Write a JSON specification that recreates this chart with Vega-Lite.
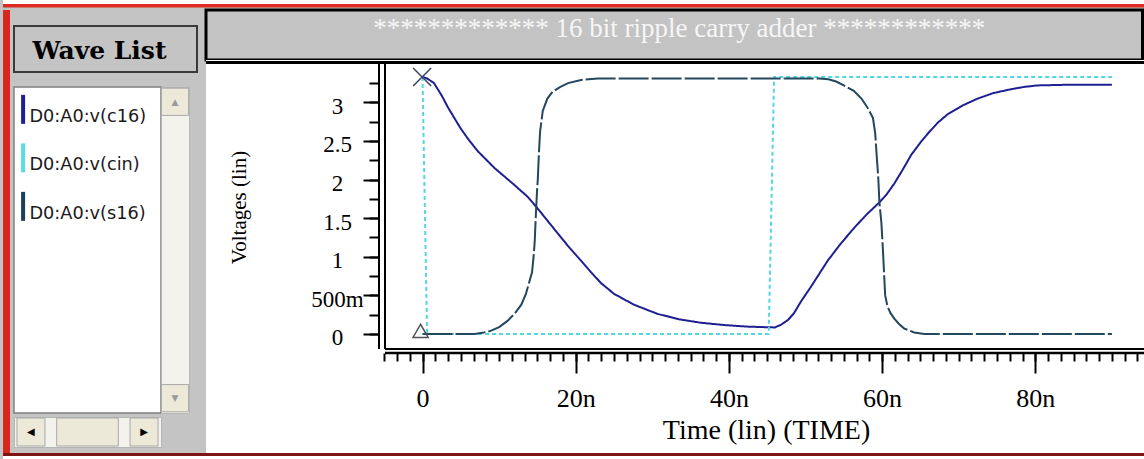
{
  "$schema": "https://vega.github.io/schema/vega-lite/v6.json",
  "background": "#c4c4c4",
  "padding": {"left": 3, "top": 0, "right": 0, "bottom": 0},
  "config": {
    "view": {"stroke": null},
    "concat": {"spacing": 0},
    "axis": {"grid": false, "domain": false, "labelColor": "#000000", "tickColor": "#000000", "titleColor": "#000000"}
  },
  "datasets": {
    "waves": [
      {"series": "D0:A0:v(c16)", "t": 0, "v": 3.33},
      {"series": "D0:A0:v(c16)", "t": 0.6, "v": 3.31},
      {"series": "D0:A0:v(c16)", "t": 1.5, "v": 3.25},
      {"series": "D0:A0:v(c16)", "t": 2.5, "v": 3.09},
      {"series": "D0:A0:v(c16)", "t": 3.3, "v": 2.94},
      {"series": "D0:A0:v(c16)", "t": 4.2, "v": 2.79},
      {"series": "D0:A0:v(c16)", "t": 5.0, "v": 2.66},
      {"series": "D0:A0:v(c16)", "t": 6.0, "v": 2.52},
      {"series": "D0:A0:v(c16)", "t": 7.2, "v": 2.37},
      {"series": "D0:A0:v(c16)", "t": 8.3, "v": 2.26},
      {"series": "D0:A0:v(c16)", "t": 9.4, "v": 2.15},
      {"series": "D0:A0:v(c16)", "t": 10.7, "v": 2.04},
      {"series": "D0:A0:v(c16)", "t": 12.0, "v": 1.93},
      {"series": "D0:A0:v(c16)", "t": 13.7, "v": 1.78},
      {"series": "D0:A0:v(c16)", "t": 15.0, "v": 1.63},
      {"series": "D0:A0:v(c16)", "t": 16.3, "v": 1.47},
      {"series": "D0:A0:v(c16)", "t": 17.6, "v": 1.31},
      {"series": "D0:A0:v(c16)", "t": 19.0, "v": 1.14},
      {"series": "D0:A0:v(c16)", "t": 20.7, "v": 0.95},
      {"series": "D0:A0:v(c16)", "t": 22.0, "v": 0.80},
      {"series": "D0:A0:v(c16)", "t": 23.3, "v": 0.66},
      {"series": "D0:A0:v(c16)", "t": 25.0, "v": 0.52},
      {"series": "D0:A0:v(c16)", "t": 27.6, "v": 0.38},
      {"series": "D0:A0:v(c16)", "t": 30.7, "v": 0.26},
      {"series": "D0:A0:v(c16)", "t": 33.5, "v": 0.19},
      {"series": "D0:A0:v(c16)", "t": 36.4, "v": 0.145},
      {"series": "D0:A0:v(c16)", "t": 39.5, "v": 0.115},
      {"series": "D0:A0:v(c16)", "t": 42.5, "v": 0.095},
      {"series": "D0:A0:v(c16)", "t": 46.0, "v": 0.085},
      {"series": "D0:A0:v(c16)", "t": 46.8, "v": 0.12},
      {"series": "D0:A0:v(c16)", "t": 47.7, "v": 0.18},
      {"series": "D0:A0:v(c16)", "t": 48.5, "v": 0.27},
      {"series": "D0:A0:v(c16)", "t": 49.4, "v": 0.42},
      {"series": "D0:A0:v(c16)", "t": 50.7, "v": 0.61},
      {"series": "D0:A0:v(c16)", "t": 51.8, "v": 0.78},
      {"series": "D0:A0:v(c16)", "t": 52.9, "v": 0.95},
      {"series": "D0:A0:v(c16)", "t": 54.6, "v": 1.17},
      {"series": "D0:A0:v(c16)", "t": 56.4, "v": 1.38},
      {"series": "D0:A0:v(c16)", "t": 58.0, "v": 1.55},
      {"series": "D0:A0:v(c16)", "t": 59.6, "v": 1.70},
      {"series": "D0:A0:v(c16)", "t": 60.6, "v": 1.81},
      {"series": "D0:A0:v(c16)", "t": 61.6, "v": 1.95},
      {"series": "D0:A0:v(c16)", "t": 62.7, "v": 2.13},
      {"series": "D0:A0:v(c16)", "t": 63.8, "v": 2.32},
      {"series": "D0:A0:v(c16)", "t": 65.0, "v": 2.48},
      {"series": "D0:A0:v(c16)", "t": 66.0, "v": 2.60},
      {"series": "D0:A0:v(c16)", "t": 67.3, "v": 2.74},
      {"series": "D0:A0:v(c16)", "t": 68.6, "v": 2.85},
      {"series": "D0:A0:v(c16)", "t": 70.5, "v": 2.96},
      {"series": "D0:A0:v(c16)", "t": 72.5, "v": 3.05},
      {"series": "D0:A0:v(c16)", "t": 74.5, "v": 3.12},
      {"series": "D0:A0:v(c16)", "t": 76.8, "v": 3.17},
      {"series": "D0:A0:v(c16)", "t": 78.5, "v": 3.20},
      {"series": "D0:A0:v(c16)", "t": 80.3, "v": 3.22},
      {"series": "D0:A0:v(c16)", "t": 85.0, "v": 3.23},
      {"series": "D0:A0:v(c16)", "t": 90.0, "v": 3.23},
      {"series": "D0:A0:v(cin)", "t": 0, "v": 3.33},
      {"series": "D0:A0:v(cin)", "t": 0.6, "v": 0},
      {"series": "D0:A0:v(cin)", "t": 45.2, "v": 0},
      {"series": "D0:A0:v(cin)", "t": 45.9, "v": 3.33},
      {"series": "D0:A0:v(cin)", "t": 90.0, "v": 3.33},
      {"series": "D0:A0:v(s16)", "t": 0, "v": 0},
      {"series": "D0:A0:v(s16)", "t": 3.0, "v": 0},
      {"series": "D0:A0:v(s16)", "t": 6.8, "v": 0},
      {"series": "D0:A0:v(s16)", "t": 8.0, "v": 0.02},
      {"series": "D0:A0:v(s16)", "t": 8.9, "v": 0.04},
      {"series": "D0:A0:v(s16)", "t": 10.0, "v": 0.09},
      {"series": "D0:A0:v(s16)", "t": 11.1, "v": 0.17},
      {"series": "D0:A0:v(s16)", "t": 12.0, "v": 0.26},
      {"series": "D0:A0:v(s16)", "t": 12.9, "v": 0.38},
      {"series": "D0:A0:v(s16)", "t": 13.5, "v": 0.52},
      {"series": "D0:A0:v(s16)", "t": 13.9, "v": 0.66},
      {"series": "D0:A0:v(s16)", "t": 14.3, "v": 0.80},
      {"series": "D0:A0:v(s16)", "t": 14.5, "v": 1.0},
      {"series": "D0:A0:v(s16)", "t": 14.65, "v": 1.2},
      {"series": "D0:A0:v(s16)", "t": 14.8, "v": 1.55},
      {"series": "D0:A0:v(s16)", "t": 14.95, "v": 1.85},
      {"series": "D0:A0:v(s16)", "t": 15.05, "v": 2.0},
      {"series": "D0:A0:v(s16)", "t": 15.2, "v": 2.35},
      {"series": "D0:A0:v(s16)", "t": 15.35, "v": 2.62},
      {"series": "D0:A0:v(s16)", "t": 15.7, "v": 2.89},
      {"series": "D0:A0:v(s16)", "t": 16.3, "v": 3.05},
      {"series": "D0:A0:v(s16)", "t": 17.0, "v": 3.14},
      {"series": "D0:A0:v(s16)", "t": 18.0, "v": 3.2},
      {"series": "D0:A0:v(s16)", "t": 19.0, "v": 3.25},
      {"series": "D0:A0:v(s16)", "t": 20.7, "v": 3.29},
      {"series": "D0:A0:v(s16)", "t": 22.9, "v": 3.31},
      {"series": "D0:A0:v(s16)", "t": 51.8, "v": 3.31},
      {"series": "D0:A0:v(s16)", "t": 53.0, "v": 3.30},
      {"series": "D0:A0:v(s16)", "t": 54.0, "v": 3.27},
      {"series": "D0:A0:v(s16)", "t": 55.0, "v": 3.22},
      {"series": "D0:A0:v(s16)", "t": 56.3, "v": 3.15},
      {"series": "D0:A0:v(s16)", "t": 57.3, "v": 3.05},
      {"series": "D0:A0:v(s16)", "t": 58.1, "v": 2.93},
      {"series": "D0:A0:v(s16)", "t": 58.8, "v": 2.80},
      {"series": "D0:A0:v(s16)", "t": 59.1, "v": 2.6},
      {"series": "D0:A0:v(s16)", "t": 59.3, "v": 2.3},
      {"series": "D0:A0:v(s16)", "t": 59.5, "v": 2.02},
      {"series": "D0:A0:v(s16)", "t": 59.65, "v": 1.7},
      {"series": "D0:A0:v(s16)", "t": 59.9, "v": 1.45},
      {"series": "D0:A0:v(s16)", "t": 60.1, "v": 1.1},
      {"series": "D0:A0:v(s16)", "t": 60.25, "v": 0.8},
      {"series": "D0:A0:v(s16)", "t": 60.4, "v": 0.5},
      {"series": "D0:A0:v(s16)", "t": 60.7, "v": 0.36},
      {"series": "D0:A0:v(s16)", "t": 61.1, "v": 0.27},
      {"series": "D0:A0:v(s16)", "t": 61.6, "v": 0.2},
      {"series": "D0:A0:v(s16)", "t": 62.2, "v": 0.13},
      {"series": "D0:A0:v(s16)", "t": 62.9, "v": 0.07},
      {"series": "D0:A0:v(s16)", "t": 64.2, "v": 0.02},
      {"series": "D0:A0:v(s16)", "t": 65.5, "v": 0},
      {"series": "D0:A0:v(s16)", "t": 90.0, "v": 0}
    ]
  },
  "spacing": 0,
  "resolve": {"scale": {"color": "independent"}, "legend": {"color": "independent"}},
  "vconcat": [
    {
      "width": 1141, "height": 4,
      "view": {"fill": "#ffffff", "stroke": null},
      "data": {"values": [{}]},
      "mark": {"type": "rect", "opacity": 0}
    },
    {
      "width": 1141, "height": 3.5,
      "view": {"fill": "#dc2b20", "stroke": null},
      "data": {"values": [{}]},
      "mark": {"type": "rect", "opacity": 0}
    },
    {
      "spacing": 3,
      "resolve": {"scale": {"color": "independent"}, "legend": {"color": "independent"}},
      "hconcat": [
        {
          "width": 7, "height": 443,
          "view": {"fill": "#d8281e", "stroke": null},
          "data": {"values": [{}]},
          "mark": {"type": "rect", "opacity": 0}
        },
        {
          "spacing": 12,
          "resolve": {"scale": {"color": "independent"}, "legend": {"color": "independent"}},
          "vconcat": [
            {
              "width": 186.5, "height": 3,
              "view": {"fill": "#c4c4c4", "stroke": null},
              "data": {"values": [{}]},
              "mark": {"type": "rect", "opacity": 0}
            },
            {
              "width": 183, "height": 46,
              "view": {"fill": "#c4c4c4", "stroke": "#3a3a3a", "strokeWidth": 2},
              "data": {"values": [{"label": "Wave List"}]},
              "mark": {"type": "text", "font": "DejaVu Serif", "fontWeight": "bold", "fontSize": 25, "color": "#000000", "baseline": "middle", "dx": -6, "dy": 2},
              "encoding": {"text": {"field": "label"}}
            },
            {
              "spacing": 0,
              "resolve": {"scale": {"color": "independent"}, "legend": {"color": "independent"}},
              "vconcat": [
                {
                  "spacing": 0,
                  "bounds": "flush",
                  "resolve": {"scale": {"color": "independent"}, "legend": {"color": "independent"}},
                  "hconcat": [
                    {
                      "width": 147, "height": 326,
                      "view": {"fill": "#ffffff", "stroke": "#808080", "strokeWidth": 1.5},
                      "data": {"values": [{"series": "D0:A0:v(c16)"}, {"series": "D0:A0:v(cin)"}, {"series": "D0:A0:v(s16)"}]},
                      "mark": {"type": "point", "opacity": 0},
                      "encoding": {
                        "color": {
                          "field": "series", "type": "nominal",
                          "scale": {"domain": ["D0:A0:v(c16)", "D0:A0:v(cin)", "D0:A0:v(s16)"], "range": ["#1f1f9a", "#58dce6", "#1d3f5e"]},
                          "legend": {
                            "orient": "none", "legendX": 0.25, "legendY": 21, "title": null, "padding": 0,
                            "symbolType": "M0,-22L0,7", "symbolSize": 4, "symbolStrokeWidth": 4, "symbolOpacity": 1,
                            "labelFont": "DejaVu Sans", "labelFontSize": 17.7, "labelColor": "#1a1a1a",
                            "labelOffset": -2.5, "rowPadding": 2.5, "labelLimit": 0
                          }
                        }
                      }
                    },
                    {
                      "width": 28, "height": 326,
                      "view": {"fill": "#f3f2ec", "stroke": "#b5b5b5", "strokeWidth": 1},
                      "data": {"values": [{"part": "up", "glyph": "▲"}, {"part": "down", "glyph": "▼"}]},
                      "encoding": {
                        "y": {"field": "part", "type": "ordinal", "scale": {"type": "point", "domain": ["up", "down"], "padding": 0.05}, "axis": null}
                      },
                      "layer": [
                        {"mark": {"type": "point", "shape": "square", "size": 740, "filled": true, "fill": "#ece9d8", "stroke": "#a8a8a8", "strokeWidth": 1, "opacity": 1}},
                        {"mark": {"type": "text", "font": "DejaVu Sans", "fontSize": 9, "color": "#9a9a9a"}, "encoding": {"text": {"field": "glyph"}}}
                      ]
                    }
                  ]
                },
                {
                  "width": 147, "height": 30,
                  "view": {"fill": "#f3f2ec", "stroke": "#b5b5b5", "strokeWidth": 1},
                  "data": {"values": [{"part": "left", "glyph": "◀"}, {"part": "thumb", "glyph": ""}, {"part": "right", "glyph": "▶"}]},
                  "encoding": {
                    "x": {"field": "part", "type": "ordinal", "scale": {"type": "point", "domain": ["left", "thumb", "right"], "padding": 0.3}, "axis": null}
                  },
                  "layer": [
                    {
                      "mark": {"type": "point", "size": 784, "filled": true, "fill": "#ece9d8", "stroke": "#a8a8a8", "strokeWidth": 1, "opacity": 1},
                      "encoding": {
                        "shape": {"field": "part", "type": "nominal", "scale": {"domain": ["left", "thumb", "right"], "range": ["square", "M-2.2,-1L2.2,-1L2.2,1L-2.2,1Z", "square"]}, "legend": null}
                      }
                    },
                    {"mark": {"type": "text", "font": "DejaVu Sans", "fontSize": 10, "color": "#000000"}, "encoding": {"text": {"field": "glyph"}}}
                  ]
                }
              ]
            }
          ]
        },
        {
          "spacing": 0,
          "bounds": "flush",
          "resolve": {"scale": {"color": "independent"}, "legend": {"color": "independent"}},
          "vconcat": [
            {
              "width": 936.5, "height": 50,
              "view": {"fill": "#c3c3c3", "stroke": "#000000", "strokeWidth": 3},
              "data": {"values": [{"label": "************* 16 bit ripple carry adder  ************"}]},
              "mark": {"type": "text", "font": "Liberation Serif", "fontSize": 27, "color": "#f6f6f6", "baseline": "alphabetic", "dx": 5, "dy": 1.5},
              "encoding": {"text": {"field": "label"}}
            },
            {
              "width": 938, "height": 393,
              "view": {"fill": "#ffffff", "stroke": null},
              "resolve": {"axis": {"x": "independent", "y": "independent"}},
              "layer": [
                {
                  "data": {"values": [{}]},
                  "mark": {"type": "rule", "color": "#000000", "strokeWidth": 3},
                  "encoding": {
                    "x": {"datum": -28.264, "type": "quantitative", "scale": {"domain": [-28.264, 94.19], "nice": false, "zero": false}, "axis": null},
                    "x2": {"datum": 94.19},
                    "y": {"datum": 3.517, "type": "quantitative", "scale": {"domain": [-1.5415, 3.5492], "nice": false, "zero": false}, "axis": null}
                  }
                },
                {
                  "data": {"values": [{}]},
                  "mark": {"type": "rule", "color": "#000000", "strokeWidth": 2},
                  "encoding": {
                    "x": {"datum": -4.896, "type": "quantitative", "scale": {"domain": [-28.264, 94.19], "nice": false, "zero": false}, "axis": null},
                    "y": {"datum": 3.517, "type": "quantitative", "scale": {"domain": [-1.5415, 3.5492], "nice": false, "zero": false}, "axis": null},
                    "y2": {"datum": -0.1943}
                  }
                },
                {
                  "data": {"values": [{}]},
                  "mark": {"type": "rule", "color": "#000000", "strokeWidth": 2},
                  "encoding": {
                    "x": {"datum": -4.896, "type": "quantitative", "scale": {"domain": [-28.264, 94.19], "nice": false, "zero": false}, "axis": null},
                    "x2": {"datum": 94.19},
                    "y": {"datum": -0.1943, "type": "quantitative", "scale": {"domain": [-1.5415, 3.5492], "nice": false, "zero": false}, "axis": null}
                  }
                },
                {
                  "data": {"values": [{}]},
                  "mark": {"type": "rule", "color": "#000000", "strokeWidth": 2},
                  "encoding": {
                    "x": {"datum": -5.679, "type": "quantitative", "scale": {"domain": [-28.264, 94.19], "nice": false, "zero": false}, "axis": null},
                    "y": {"datum": 3.517, "type": "quantitative", "scale": {"domain": [-1.5415, 3.5492], "nice": false, "zero": false}, "axis": null},
                    "y2": {"datum": -0.1943}
                  }
                },
                {
                  "data": {"values": [{}]},
                  "mark": {"type": "rule", "color": "#000000", "strokeWidth": 2.5},
                  "encoding": {
                    "x": {"datum": -4.896, "type": "quantitative", "scale": {"domain": [-28.264, 94.19], "nice": false, "zero": false}, "axis": null},
                    "x2": {"datum": 94.19},
                    "y": {"datum": -0.2461, "type": "quantitative", "scale": {"domain": [-1.5415, 3.5492], "nice": false, "zero": false}, "axis": null}
                  }
                },
                {
                  "data": {"name": "waves"},
                  "mark": {"type": "line", "strokeWidth": 2},
                  "encoding": {
                    "x": {
                      "field": "t", "type": "quantitative",
                      "scale": {"domain": [-28.264, 94.19], "nice": false, "zero": false},
                      "axis": {
                        "orient": "bottom", "offset": -100, "values": [0, 20, 40, 60, 80],
                        "domain": false, "grid": false, "tickSize": 20, "tickWidth": 2,
                        "labelFont": "Liberation Serif", "labelFontSize": 26, "labelPadding": 12,
                        "labelFlush": false, "labelOverlap": false,
                        "labelExpr": "datum.value == 0 ? '0' : datum.value + 'n'",
                        "title": "Time (lin) (TIME)", "titleFont": "Liberation Serif", "titleFontSize": 28, "titleFontWeight": "normal",
                        "titleX": 560, "titleY": 77, "titleAlign": "center", "titleBaseline": "middle"
                      }
                    },
                    "y": {
                      "field": "v", "type": "quantitative",
                      "scale": {"domain": [-1.5415, 3.5492], "nice": false, "zero": false},
                      "axis": {
                        "orient": "left", "offset": -173, "values": [0, 0.5, 1, 1.5, 2, 2.5, 3],
                        "domain": false, "grid": false, "tickSize": 16, "tickWidth": 2,
                        "labelExpr": "datum.value == 0.5 ? '500m' : '' + datum.value",
                        "labelFont": "Liberation Serif", "labelFontSize": 23, "labelAlign": "center", "labelBaseline": "middle",
                        "labelPadding": 26, "labelOffset": 4, "labelFlush": false, "labelOverlap": false,
                        "title": "Voltages (lin)", "titleFont": "Liberation Serif", "titleFontSize": 21, "titleFontWeight": "normal",
                        "titleAngle": -90, "titleX": -140, "titleY": 147, "titleAlign": "center", "titleBaseline": "middle", "titleLimit": 0
                      }
                    },
                    "color": {
                      "field": "series", "type": "nominal",
                      "scale": {"domain": ["D0:A0:v(c16)", "D0:A0:v(cin)", "D0:A0:v(s16)"], "range": ["#1f1f92", "#52d6e4", "#22475f"]},
                      "legend": null
                    },
                    "strokeDash": {
                      "field": "series", "type": "nominal",
                      "scale": {"domain": ["D0:A0:v(c16)", "D0:A0:v(cin)", "D0:A0:v(s16)"], "range": [[1, 0], [4, 3], [30, 3]]},
                      "legend": null
                    }
                  }
                },
                {
                  "data": {"values": [{"t": -0.05, "v": 3.33}]},
                  "mark": {"type": "point", "shape": "M-1,-1L1,1M-1,1L1,-1", "size": 324, "filled": false, "stroke": "#3a4468", "strokeWidth": 1.5, "opacity": 1},
                  "encoding": {
                    "x": {"field": "t", "type": "quantitative", "scale": {"domain": [-28.264, 94.19], "nice": false, "zero": false}, "axis": null},
                    "y": {"field": "v", "type": "quantitative", "scale": {"domain": [-1.5415, 3.5492], "nice": false, "zero": false}, "axis": null}
                  }
                },
                {
                  "data": {"values": [{"t": -0.25, "v": 0.04}]},
                  "mark": {"type": "point", "shape": "triangle-up", "size": 230, "filled": false, "stroke": "#505058", "strokeWidth": 1.5, "opacity": 1},
                  "encoding": {
                    "x": {
                      "field": "t", "type": "quantitative",
                      "scale": {"domain": [-28.264, 94.19], "nice": false, "zero": false},
                      "axis": {
                        "orient": "bottom", "offset": -100, "labels": false, "title": null, "domain": false, "grid": false,
                        "tickSize": 8, "tickWidth": 2,
                        "values": [-5, -3.333, -1.667, 0, 1.667, 3.333, 5, 6.667, 8.333, 10, 11.667, 13.333, 15, 16.667, 18.333, 20, 21.667, 23.333, 25, 26.667, 28.333, 30, 31.667, 33.333, 35, 36.667, 38.333, 40, 41.667, 43.333, 45, 46.667, 48.333, 50, 51.667, 53.333, 55, 56.667, 58.333, 60, 61.667, 63.333, 65, 66.667, 68.333, 70, 71.667, 73.333, 75, 76.667, 78.333, 80, 81.667, 83.333, 85, 86.667, 88.333, 90, 91.667, 93.333]
                      }
                    },
                    "y": {
                      "field": "v", "type": "quantitative",
                      "scale": {"domain": [-1.5415, 3.5492], "nice": false, "zero": false},
                      "axis": {
                        "orient": "left", "offset": -173, "labels": false, "title": null, "domain": false, "grid": false,
                        "tickSize": 10, "tickWidth": 2,
                        "values": [0, 0.25, 0.5, 0.75, 1, 1.25, 1.5, 1.75, 2, 2.25, 2.5, 2.75, 3, 3.25]
                      }
                    }
                  }
                }
              ]
            }
          ]
        }
      ]
    },
    {
      "width": 1141, "height": 3,
      "view": {"fill": "#7e1414", "stroke": null},
      "data": {"values": [{}]},
      "mark": {"type": "rect", "opacity": 0}
    },
    {
      "width": 1141, "height": 3.5,
      "view": {"fill": "#ffffff", "stroke": null},
      "data": {"values": [{}]},
      "mark": {"type": "rect", "opacity": 0}
    }
  ]
}
